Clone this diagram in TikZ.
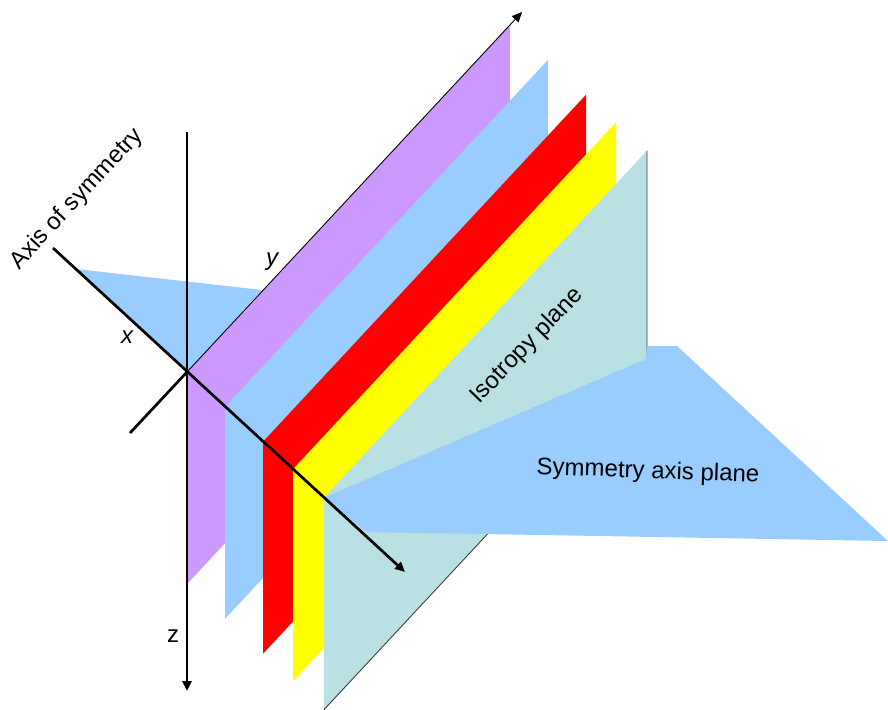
\documentclass[tikz,border=0pt]{standalone}
\usepackage{fontspec}
\setmainfont{Liberation Sans}
\usepackage{tikz}
\usetikzlibrary{calc}
\usetikzlibrary{arrows.meta}
\definecolor{lilac}{HTML}{CC99FF}
\definecolor{skyblue}{HTML}{99CCFF}
\definecolor{isoblue}{HTML}{B9E0E3}
\definecolor{lemon}{HTML}{FFFF00}
\tikzset{
  axisline/.style={line width=2.7pt},
  edgeline/.style={line width=0.9pt},
  axtip/.style={-{Triangle[length=10pt,width=9pt]}},
  lbl/.style={font=\fontsize{24}{28}\selectfont, inner sep=0pt},
}

\begin{document}
\begin{tikzpicture}[x=1pt,y=-1pt]
    \useasboundingbox (0,0) rectangle (888,709);
    \coordinate (O) at (187,372);
    \coordinate (zt) at (187,132);
    \coordinate (zb) at (187,691);
    \coordinate (xt) at (53,248);
    \coordinate (xb) at (405,572);
    \coordinate (yb) at (130,433);
    \coordinate (yt) at (522,12);
    \fill[skyblue] (76,269) -- (262,290) -- (O) -- cycle;
    \foreach \off/\col/\nm in {0/lilac/pur,38/skyblue/blu,76/red/rd,106/lemon/yel,137/isoblue/iso}{
        \coordinate (\nm-tl) at ($(O)+(\off,0.917*\off)$);
        \coordinate (\nm-tr) at ($(\nm-tl)+(323,-347)$);
        \coordinate (\nm-br) at ($(\nm-tr)+(0,212)$);
        \coordinate (\nm-bl) at ($(\nm-tl)+(0,212)$);
        \fill[\col] (\nm-tl) -- (\nm-tr) -- (\nm-br) -- (\nm-bl) -- cycle;
    }
    \draw[edgeline, black!75] (iso-tr) -- (iso-br) -- (iso-bl);
    \fill[skyblue] (iso-tl) -- (646,359) -- (647,346) -- (677,346) -- (888,541) -- (367,532) -- cycle;
    \draw[axisline, axtip] (zt) -- (zb);
    \draw[axisline] (yb) -- (O);
    \draw[edgeline, axtip] (O) -- (yt);
    \draw[axisline, axtip] (xt) -- (xb);
    \node[lbl, rotate=47] (axislbl) at (77,199) {Axis of symmetry};
    \node[lbl] (xlbl) at (127,337) {\itshape x};
    \node[lbl] (ylbl) at (272,262) {\itshape y};
    \node[lbl] (zlbl) at (173,636) {z};
    \node[lbl, rotate=46] (isolbl) at (527,346) {Isotropy plane};
    \node[lbl, rotate=-2] (symlbl) at (648,472) {Symmetry axis plane};
\end{tikzpicture}
\end{document}
